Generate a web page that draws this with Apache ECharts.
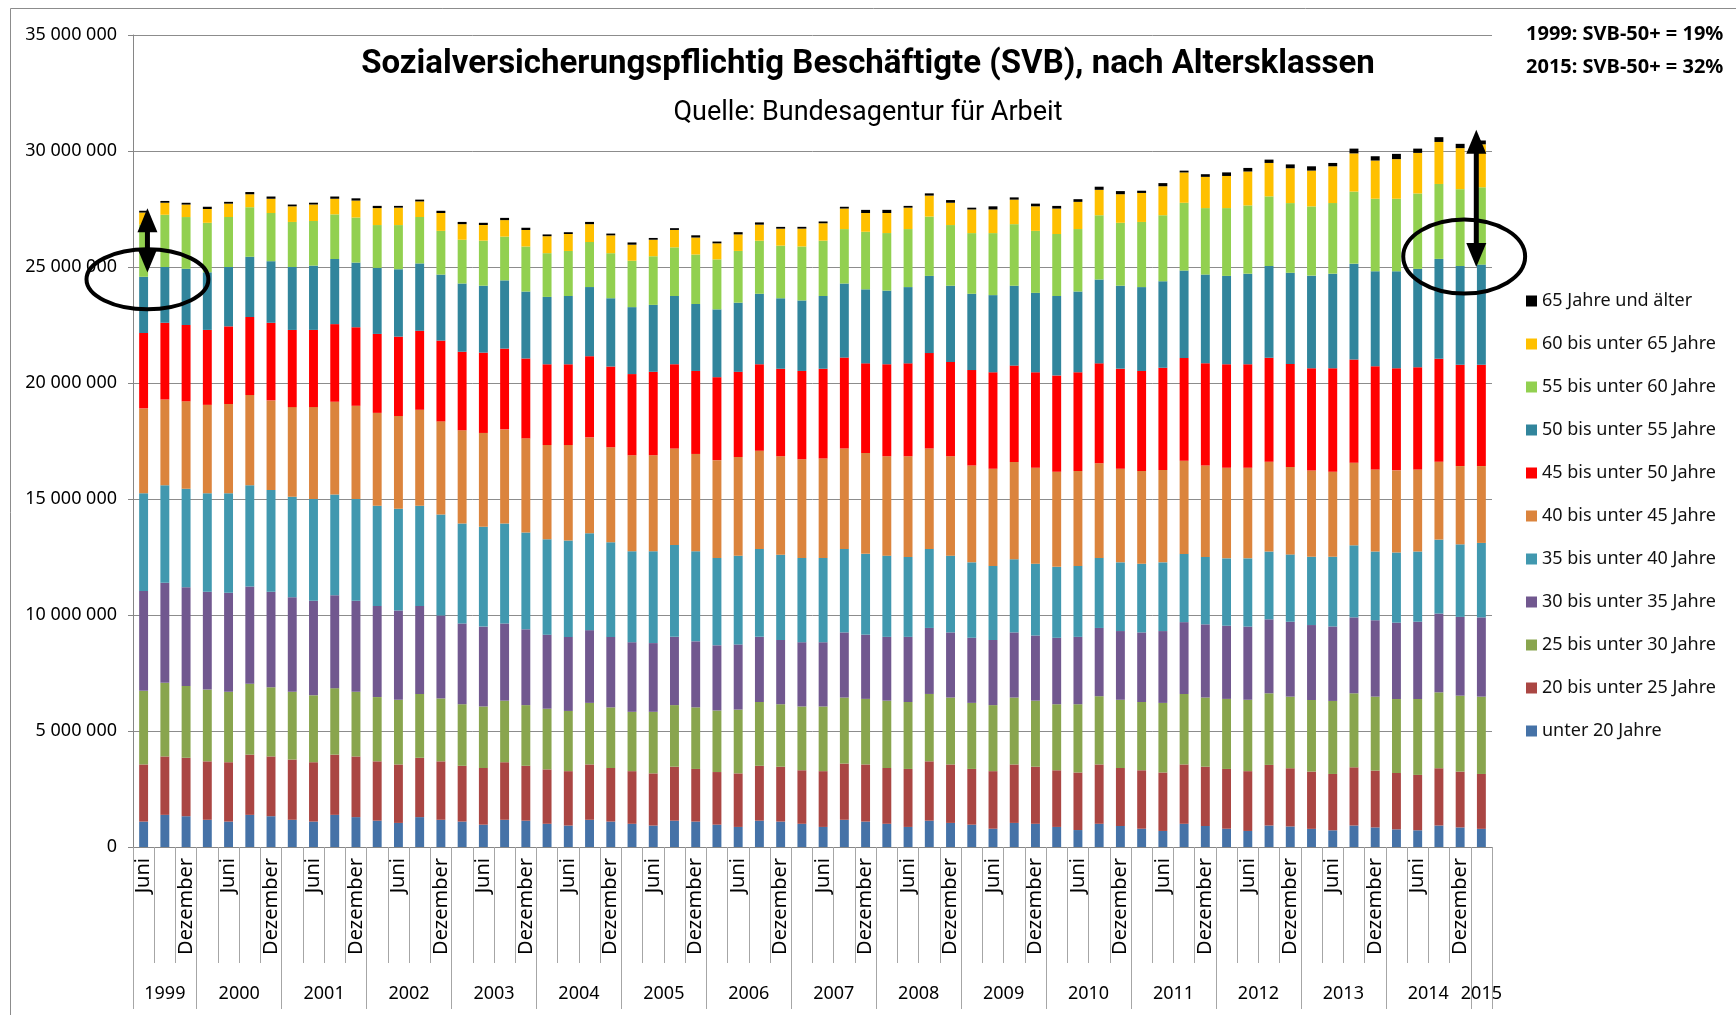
<!DOCTYPE html>
<html>
<head>
<meta charset="utf-8">
<title>SVB nach Altersklassen</title>
<script src="https://cdn.jsdelivr.net/npm/echarts/dist/echarts.min.js"></script>
<style>
  html, body { margin: 0; padding: 0; background: #fff; }
  #chart { width: 1736px; height: 1015px; }
</style>
</head>
<body>
<div id="chart"></div>
<script>
// Quartale Juni 1999 bis März 2015
var quartale = ['März', 'Juni', 'September', 'Dezember'];
var monate = [];
var jahre = [];
for (var j = 1999; j <= 2015; j++) {
  for (var q = 0; q < 4; q++) {
    if (j === 1999 && q === 0) continue;
    if (j === 2015 && q > 0) break;
    monate.push(quartale[q]);
    jahre.push(j);
  }
}
var kategorien = monate.map(function (m, i) { return m + ' ' + jahre[i]; });

// Beschäftigte in Tausend, je Altersklasse
var u20 = [1096,1385,1327,1173,1096,1385,1327,1173,1096,1385,1288,1135,1038,1288,1173,1096,962,1173,1135,1000,923,1173,1096,1000,923,1135,1096,962,865,1135,1096,1000,865,1173,1096,1000,865,1135,1038,962,788,1038,1000,865,731,1000,904,788,692,1000,904,788,692,926,885,782,720,926,844,761,720,926,844,782];
var j20 = [2462,2519,2519,2519,2558,2596,2577,2596,2558,2596,2615,2558,2519,2558,2519,2404,2442,2481,2365,2346,2346,2385,2308,2269,2250,2327,2269,2269,2308,2365,2365,2308,2404,2423,2462,2404,2500,2558,2519,2404,2481,2519,2462,2442,2481,2558,2500,2519,2519,2558,2558,2577,2577,2613,2510,2469,2428,2510,2449,2428,2387,2469,2407,2366];
var j25 = [3173,3173,3096,3096,3038,3058,2981,2923,2885,2865,2788,2769,2788,2750,2712,2654,2654,2654,2615,2615,2596,2654,2615,2558,2654,2654,2654,2654,2750,2750,2692,2750,2788,2846,2827,2904,2885,2904,2885,2846,2846,2885,2846,2846,2942,2942,2942,2942,3000,3038,2981,3019,3077,3086,3086,3086,3148,3189,3189,3189,3272,3272,3272,3333];
var j30 = [4308,4308,4250,4212,4269,4192,4115,4077,4077,4000,3923,3923,3846,3788,3577,3481,3442,3327,3269,3192,3192,3135,3038,3000,2962,2942,2846,2808,2808,2808,2769,2769,2769,2808,2769,2750,2808,2846,2808,2808,2808,2808,2808,2865,2904,2942,2962,3000,3096,3096,3154,3154,3154,3189,3230,3230,3210,3272,3292,3292,3333,3395,3395,3416];
var j35 = [4212,4212,4250,4250,4289,4365,4385,4327,4385,4346,4385,4327,4385,4327,4346,4308,4308,4308,4173,4115,4154,4173,4077,3923,3962,3962,3885,3769,3827,3788,3673,3635,3635,3596,3481,3500,3442,3404,3308,3250,3192,3154,3096,3058,3058,3019,2962,2962,2962,2942,2904,2904,2942,2922,2901,2942,3004,3107,2963,3025,3025,3189,3128,3210];
var j40 = [3654,3692,3769,3808,3846,3885,3865,3865,3962,4000,4019,4000,4000,4135,4019,4019,4039,4058,4058,4058,4115,4135,4096,4135,4135,4154,4192,4212,4250,4231,4250,4250,4289,4327,4346,4289,4346,4327,4289,4173,4192,4192,4135,4096,4096,4077,4039,4000,3981,4019,3942,3904,3904,3868,3765,3724,3663,3560,3539,3539,3539,3354,3374,3313];
var j45 = [3250,3308,3288,3231,3346,3365,3346,3327,3327,3346,3385,3404,3423,3404,3481,3385,3462,3481,3442,3481,3481,3500,3481,3500,3596,3635,3577,3577,3673,3731,3769,3808,3865,3923,3865,3962,4000,4115,4058,4115,4154,4154,4115,4154,4250,4308,4308,4308,4404,4423,4404,4462,4462,4486,4444,4403,4465,4444,4444,4403,4403,4444,4362,4362];
var j50 = [2423,2404,2423,2481,2558,2596,2654,2712,2769,2808,2788,2846,2904,2904,2846,2942,2885,2942,2885,2904,2942,2981,2942,2885,2885,2942,2885,2923,2981,3038,3038,3038,3135,3192,3192,3173,3288,3327,3288,3288,3327,3442,3423,3423,3481,3615,3577,3615,3731,3769,3827,3808,3904,3951,3930,3992,4074,4136,4095,4177,4239,4300,4259,4321];
var j55 = [2250,2250,2231,2135,2154,2135,2077,1942,1923,1923,1942,1846,1904,2000,1885,1885,1942,1885,1942,1885,1942,1942,1942,2000,2096,2096,2135,2154,2231,2288,2269,2327,2385,2346,2481,2481,2500,2558,2615,2615,2673,2654,2673,2673,2692,2769,2712,2808,2846,2923,2865,2923,2942,3004,3004,2984,3045,3107,3128,3128,3251,3230,3313,3333];
var j60 = [519,519,538,596,577,558,615,673,712,673,731,731,750,673,769,673,673,712,712,731,731,769,769,692,712,750,731,692,712,692,731,769,750,885,808,865,923,904,962,1019,1019,1058,1058,1096,1173,1096,1231,1250,1250,1308,1346,1385,1462,1440,1502,1543,1584,1646,1646,1708,1749,1811,1770,1852];
var j65 = [77,77,77,96,77,96,96,77,77,96,96,96,77,77,96,96,96,96,96,77,77,96,77,96,77,77,96,77,96,96,77,77,77,77,135,135,77,96,115,77,135,96,115,115,115,135,135,96,135,77,115,154,154,144,165,185,144,206,185,226,185,206,185,165];

var klassen = ['unter 20 Jahre', '20 bis unter 25 Jahre', '25 bis unter 30 Jahre', '30 bis unter 35 Jahre',
  '35 bis unter 40 Jahre', '40 bis unter 45 Jahre', '45 bis unter 50 Jahre', '50 bis unter 55 Jahre',
  '55 bis unter 60 Jahre', '60 bis unter 65 Jahre', '65 Jahre und älter'];
var werte = [u20, j20, j25, j30, j35, j40, j45, j50, j55, j60, j65];
var farben = ['#4572A7', '#AA4643', '#89A54E', '#71588F', '#4198AF', '#DB843D', '#FF0000', '#31859C', '#92D050', '#FFC000', '#000000'];

// Jahresachse in halben Balkenbreiten: Grenzen und Mitten
var halb = [];
for (var h = 0; h <= kategorien.length * 2; h++) halb.push(String(h));
var jahrGrenzen = [kategorien.length * 2];
var jahrMitten = {};
jahre.forEach(function (y, i) {
  if (i === 0 || jahre[i - 1] !== y) jahrGrenzen.push(i * 2);
  var last = jahre.lastIndexOf(y);
  if (i === last) jahrMitten[jahre.indexOf(y) + last + 1] = String(y);
});

function tausender(v) {
  return String(v).replace(/\B(?=(\d{3})+(?!\d))/g, ' ');
}

var schrift = 'Noto Sans';
var chart = echarts.init(document.getElementById('chart'));

chart.setOption({
  animation: false,
  backgroundColor: '#fff',
  title: [
    {
      text: 'Sozialversicherungspflichtig Beschäftigte (SVB), nach Altersklassen',
      left: 'center', top: 43,
      textStyle: { fontFamily: 'Roboto', fontWeight: 'bold', fontSize: 33, color: '#000' }
    },
    {
      text: 'Quelle: Bundesagentur für Arbeit',
      left: 'center', top: 95,
      textStyle: { fontFamily: 'Roboto', fontWeight: 'normal', fontSize: 27, color: '#000' }
    },
    {
      text: '1999: SVB-50+ = 19%\n2015: SVB-50+ = 32%',
      left: 1521, top: 13,
      textStyle: { fontFamily: schrift, fontWeight: 'bold', fontSize: 20, lineHeight: 33, color: '#000' }
    }
  ],
  legend: {
    orient: 'vertical',
    left: 1521, top: 287,
    itemWidth: 11, itemHeight: 11, itemGap: 25,
    icon: 'rect',
    data: klassen.slice().reverse(),
    textStyle: { fontFamily: schrift, fontSize: 18, color: '#111' }
  },
  grid: { left: 133, right: 244, top: 35, bottom: 168, containLabel: false },
  xAxis: [
    {
      type: 'category',
      data: kategorien,
      axisLine: { lineStyle: { color: '#868686' } },
      axisTick: { show: true, interval: 0, length: 116, lineStyle: { color: '#a6a6a6' } },
      axisLabel: {
        interval: 1, rotate: 90, margin: 11,
        fontFamily: schrift, fontSize: 20, color: '#000',
        formatter: function (v) { return v.split(' ')[0]; }
      }
    },
    {
      type: 'category',
      data: halb,
      boundaryGap: false,
      position: 'bottom',
      axisLine: { show: false },
      axisTick: {
        show: true, length: 162, lineStyle: { color: '#a6a6a6' },
        interval: function (i) { return jahrGrenzen.indexOf(i) >= 0; }
      },
      axisLabel: {
        margin: 138, fontFamily: schrift, fontSize: 18, color: '#000',
        interval: function (i) { return jahrMitten[i] !== undefined; },
        formatter: function (v, i) { return jahrMitten[i] || ''; }
      },
      splitLine: { show: false }
    }
  ],
  yAxis: {
    type: 'value',
    min: 0, max: 35000, interval: 5000,
    axisLine: { show: true, lineStyle: { color: '#868686' } },
    axisTick: { show: true, length: 5, lineStyle: { color: '#868686' } },
    splitLine: { lineStyle: { color: '#8c8c8c', width: 1 } },
    axisLabel: {
      margin: 16, fontFamily: schrift, fontSize: 18, color: '#000',
      formatter: function (v) { return tausender(v * 1000); }
    }
  },
  series: klassen.map(function (name, k) {
    return {
      name: name,
      type: 'bar',
      stack: 'svb',
      barWidth: '42%',
      itemStyle: { color: farben[k] },
      data: werte[k]
    };
  })
});

// Markierungen: Ellipsen und Doppelpfeile an den Datenkoordinaten
function pix(i, v) { return chart.convertToPixel({ xAxisIndex: 0, yAxisIndex: 0 }, [i, v]); }
var schritt = pix(1, 0)[0] - pix(0, 0)[0];

function pfeil(x, yTop, yBottom) {
  var b = 10, hk = 24;
  return [
    { type: 'line', z: 100, shape: { x1: x, y1: yTop + hk - 2, x2: x, y2: yBottom - hk + 2 }, style: { stroke: '#000', lineWidth: 5 } },
    { type: 'polygon', z: 100, shape: { points: [[x, yTop], [x - b, yTop + hk], [x + b, yTop + hk]] }, style: { fill: '#000' } },
    { type: 'polygon', z: 100, shape: { points: [[x, yBottom], [x - b, yBottom - hk], [x + b, yBottom - hk]] }, style: { fill: '#000' } }
  ];
}
function ellipse(cx, cy, rx, ry) {
  return { type: 'ellipse', z: 100, shape: { cx: cx, cy: cy, rx: rx, ry: ry }, style: { fill: 'transparent', stroke: '#000', lineWidth: 4 } };
}

var xl = pix(0, 0)[0] + 0.18 * schritt;
var xr = pix(62, 0)[0] + 0.19 * schritt;
var xa = pix(62, 0)[0] + 0.76 * schritt;
var grafik = [
  { type: 'rect', z: -1, shape: { x: 10.5, y: 8.5, width: 1800, height: 1100 }, style: { fill: 'transparent', stroke: '#8c8c8c', lineWidth: 1 } },
  ellipse(xl, pix(0, 24470)[1], 2.87 * schritt, 30),
  ellipse(xr, pix(0, 25450)[1], 2.87 * schritt, 37)
].concat(pfeil(xl, pix(0, 27530)[1], pix(0, 24760)[1]))
 .concat(pfeil(xa, pix(0, 30920)[1], pix(0, 25000)[1]));

chart.setOption({ graphic: grafik });
</script>
</body>
</html>
